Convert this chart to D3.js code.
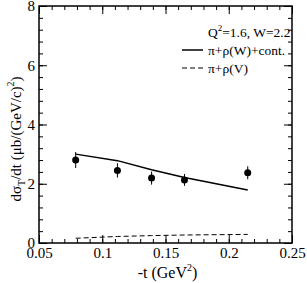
<!DOCTYPE html>
<html>
<head>
<meta charset="utf-8">
<script src="https://d3js.org/d3.v7.min.js"></script>
<style>
  body { margin: 0; background: #fff; }
</style>
</head>
<body>
<div id="chart"></div>
<script>
// data
var tData = [0.079, 0.112, 0.139, 0.165, 0.215];
var sigData = [2.80, 2.45, 2.19, 2.13, 2.37];
var errData = [0.27, 0.24, 0.22, 0.20, 0.22];

var tModel = [0.079, 0.112, 0.139, 0.165, 0.215];
var sigFull = [3.00, 2.78, 2.47, 2.21, 1.79];   // pi + rho(W) + cont.
var sigV = [0.16, 0.22, 0.25, 0.27, 0.29];      // pi + rho(V)

var xTicks = [0.05, 0.1, 0.15, 0.2, 0.25];
var yTicks = [0, 2, 4, 6, 8];

var FONT = "Liberation Serif";

var W = 307, H = 283;
var margin = {top: 6, right: 15, bottom: 40, left: 39},
    width = W - margin.left - margin.right,
    height = H - margin.top - margin.bottom;

var svg = d3.select("#chart")
  .append("svg")
    .attr("width", W)
    .attr("height", H)
  .append("g")
    .attr("transform", "translate(" + margin.left + "," + margin.top + ")");

var x = d3.scaleLinear().domain([0.05, 0.25]).range([0, width]);
var y = d3.scaleLinear().domain([0, 8]).range([height, 0]);

var xMinor = d3.range(0.05, 0.2501, 0.01);
var yMinor = d3.range(0, 8.001, 0.4);

// ticks point inward on all four sides
svg.append("g").attr("transform", "translate(0," + height + ")")
  .call(d3.axisBottom(x).tickValues(xMinor).tickSize(-4).tickFormat(""));
svg.append("g").attr("transform", "translate(0," + height + ")")
  .call(d3.axisBottom(x).tickValues(xTicks).tickSize(-8).tickPadding(4)
        .tickFormat(function(d) { return String(+d.toFixed(2)); }))
  .attr("font-size", 15).attr("font-family", FONT);

svg.append("g").call(d3.axisTop(x).tickValues(xMinor).tickSize(-4).tickFormat(""));
svg.append("g").call(d3.axisTop(x).tickValues(xTicks).tickSize(-8).tickFormat(""));

svg.append("g").call(d3.axisLeft(y).tickValues(yMinor).tickSize(-4).tickFormat(""));
svg.append("g").call(d3.axisLeft(y).tickValues(yTicks).tickSize(-8).tickPadding(4)
        .tickFormat(d3.format("d")))
  .attr("font-size", 15).attr("font-family", FONT);

svg.append("g").attr("transform", "translate(" + width + ",0)")
  .call(d3.axisRight(y).tickValues(yMinor).tickSize(-4).tickFormat(""));
svg.append("g").attr("transform", "translate(" + width + ",0)")
  .call(d3.axisRight(y).tickValues(yTicks).tickSize(-8).tickFormat(""));

svg.selectAll(".domain").remove();
svg.selectAll(".tick line").attr("stroke", "#000").attr("stroke-width", 1);

// frame
svg.append("rect")
  .attr("width", width).attr("height", height)
  .attr("fill", "none").attr("stroke", "#000").attr("stroke-width", 1.5);

// model curves
var line = d3.line()
  .x(function(d) { return x(d[0]); })
  .y(function(d) { return y(d[1]); });

svg.append("path")
  .datum(d3.zip(tModel, sigFull))
  .attr("d", line)
  .attr("fill", "none").attr("stroke", "#000").attr("stroke-width", 1.5);

svg.append("path")
  .datum(d3.zip(tModel, sigV))
  .attr("d", line)
  .attr("fill", "none").attr("stroke", "#000").attr("stroke-width", 1)
  .attr("stroke-dasharray", "5,3");

// data points with error bars
var pts = d3.zip(tData, sigData, errData);
svg.selectAll("line.err")
  .data(pts).enter().append("line")
  .attr("class", "err")
  .attr("x1", function(d) { return x(d[0]); })
  .attr("x2", function(d) { return x(d[0]); })
  .attr("y1", function(d) { return y(d[1] - d[2]); })
  .attr("y2", function(d) { return y(d[1] + d[2]); })
  .attr("stroke", "#000").attr("stroke-width", 1);

svg.selectAll("circle.pt")
  .data(pts).enter().append("circle")
  .attr("class", "pt")
  .attr("cx", function(d) { return x(d[0]); })
  .attr("cy", function(d) { return y(d[1]); })
  .attr("r", 3.5)
  .attr("fill", "#000");

// legend
var lx = 169, ly = 31;
var legend = svg.append("g").attr("font-family", FONT).attr("font-size", 13.5);
legend.append("text").attr("x", lx).attr("y", ly)
  .html('Q<tspan dy="-6" font-size="9">2</tspan><tspan dy="6">=1.6, W=2.2</tspan>');

legend.append("line").attr("x1", lx - 26).attr("x2", lx - 5)
  .attr("y1", ly + 13).attr("y2", ly + 13)
  .attr("stroke", "#000").attr("stroke-width", 1.5);
legend.append("text").attr("x", lx).attr("y", ly + 18)
  .text("π+ρ(W)+cont.");

legend.append("line").attr("x1", lx - 26).attr("x2", lx - 5)
  .attr("y1", ly + 31).attr("y2", ly + 31)
  .attr("stroke", "#000").attr("stroke-width", 1)
  .attr("stroke-dasharray", "5,3");
legend.append("text").attr("x", lx).attr("y", ly + 36)
  .text("π+ρ(V)");

// axis titles
svg.append("text")
  .attr("x", width / 2 + 2).attr("y", height + 35)
  .attr("text-anchor", "middle")
  .attr("font-family", FONT).attr("font-size", 16)
  .html('-t (GeV<tspan dy="-7" font-size="10">2</tspan><tspan dy="7">)</tspan>');

svg.append("text")
  .attr("transform", "translate(-18," + 133 + ") rotate(-90)")
  .attr("text-anchor", "middle")
  .attr("font-family", FONT).attr("font-size", 15)
  .html('dσ<tspan dy="4" font-size="10">T</tspan><tspan dy="-4">/dt (μb/(GeV/c)</tspan><tspan dy="-7" font-size="10">2</tspan><tspan dy="7">)</tspan>');

svg.selectAll("text").attr("fill", "#000");
</script>
</body>
</html>
